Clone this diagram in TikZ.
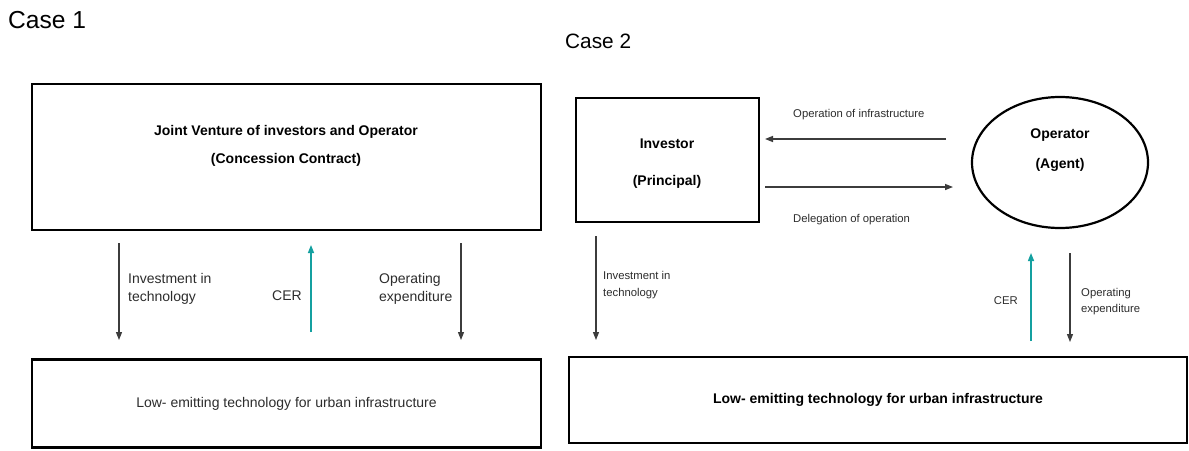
\documentclass[tikz,border=0pt]{standalone}
\usepackage{fontspec}
\setmainfont{Liberation Sans}
\usetikzlibrary{arrows.meta,shapes.geometric}
\definecolor{certeal}{RGB}{20,160,160}
\definecolor{arrgray}{RGB}{60,60,60}
\definecolor{txtgray}{RGB}{45,45,45}
\tikzset{
  box/.style={draw=black, line width=2.6pt, rectangle, inner sep=0pt},
  oval/.style={draw=black, line width=2.2pt, ellipse, inner sep=0pt},
  arr/.style={draw=arrgray, line width=1.1pt, -{Triangle[length=8pt,width=6pt]}},
  harr/.style={draw=arrgray, line width=1.4pt, -{Triangle[length=8pt,width=6pt]}},
  cerarr/.style={draw=certeal, line width=1.4pt, -{Triangle[length=8pt,width=6pt]}},
  lblA/.style={inner sep=0pt, align=left, text=txtgray, font={\fontsize{14}{18}\selectfont}},
  lblB/.style={inner sep=0pt, align=left, text=txtgray, font={\fontsize{11.3}{17}\selectfont}},
  boldtxt/.style={inner sep=0pt, align=center, text=black, font={\bfseries\fontsize{14}{28}\selectfont}},
  title/.style={inner sep=0pt, text=black}
}
\begin{document}
\begin{tikzpicture}[x=1pt,y=-1pt]
\useasboundingbox[fill=white] (0,0) rectangle (1189,450);

% ---------------- Case 1 ----------------
\node[title, font={\fontsize{24.6}{28}\selectfont}, anchor=base west] (c1) at (8,28) {Case 1};

\node[box, minimum width=509pt, minimum height=146pt] (jv) at (286.5,157) {};
\node[boldtxt, anchor=base] (jvt) at (286,163) {Joint Venture of investors and Operator\\(Concession Contract)};

\node[box, minimum width=509pt, minimum height=88pt, text=txtgray, font={\fontsize{14}{18}\selectfont}] (low1) at (286.5,403.5) {Low- emitting technology for urban infrastructure};

\coordinate (i1s) at (119,243);
\coordinate (i1e) at (119,340);
\coordinate (c1s) at (311,332);
\coordinate (c1e) at (311,245);
\coordinate (o1s) at (461,243);
\coordinate (o1e) at (461,340);
\draw[arr] (i1s) -- (i1e);
\draw[cerarr] (c1s) -- (c1e);
\draw[arr] (o1s) -- (o1e);

\node[lblA, anchor=base west] (i1l) at (128,301) {Investment in\\technology};
\node[lblA, anchor=base east] (c1l) at (302,300) {CER};
\node[lblA, anchor=base west] (o1l) at (379,301) {Operating\\expenditure};

% ---------------- Case 2 ----------------
\node[title, font={\fontsize{20.8}{24}\selectfont}, anchor=base west] (c2) at (565,48) {Case 2};

\node[box, minimum width=183pt, minimum height=124pt] (inv) at (667.5,160) {};
\node[boldtxt, font={\bfseries\fontsize{14}{37}\selectfont}, anchor=base] (invt) at (667,185) {Investor\\(Principal)};

\node[oval, minimum width=176pt, minimum height=131pt] (op) at (1060,162.5) {};
\node[boldtxt, font={\bfseries\fontsize{14}{30}\selectfont}, anchor=base] (opt) at (1060,168) {Operator\\(Agent)};

\node[box, minimum width=618pt, minimum height=86pt, font={\bfseries\fontsize{14}{18}\selectfont}] (low2) at (878,400) {Low- emitting technology for urban infrastructure};

\coordinate (oi1) at (946,139);
\coordinate (oi2) at (765,139);
\coordinate (dl1) at (765,187);
\coordinate (dl2) at (953,187);
\draw[harr] (oi1) -- (oi2);
\draw[harr] (dl1) -- (dl2);
\node[lblB, anchor=base west] (oil) at (793,117) {Operation of infrastructure};
\node[lblB, anchor=base west] (dll) at (793,222) {Delegation of operation};

\coordinate (i2s) at (596,236);
\coordinate (i2e) at (596,340);
\coordinate (c2s) at (1031,341);
\coordinate (c2e) at (1031,253);
\coordinate (o2s) at (1070,253);
\coordinate (o2e) at (1070,342);
\draw[arr] (i2s) -- (i2e);
\draw[cerarr] (c2s) -- (c2e);
\draw[arr] (o2s) -- (o2e);

\node[lblB, anchor=base west] (i2l) at (603,296) {Investment in\\technology};
\node[lblB, anchor=base east] (c2l) at (1018,304) {CER};
\node[lblB, font={\fontsize{11.3}{16.5}\selectfont}, anchor=base west] (o2l) at (1081,312.5) {Operating\\expenditure};
\end{tikzpicture}
\end{document}
